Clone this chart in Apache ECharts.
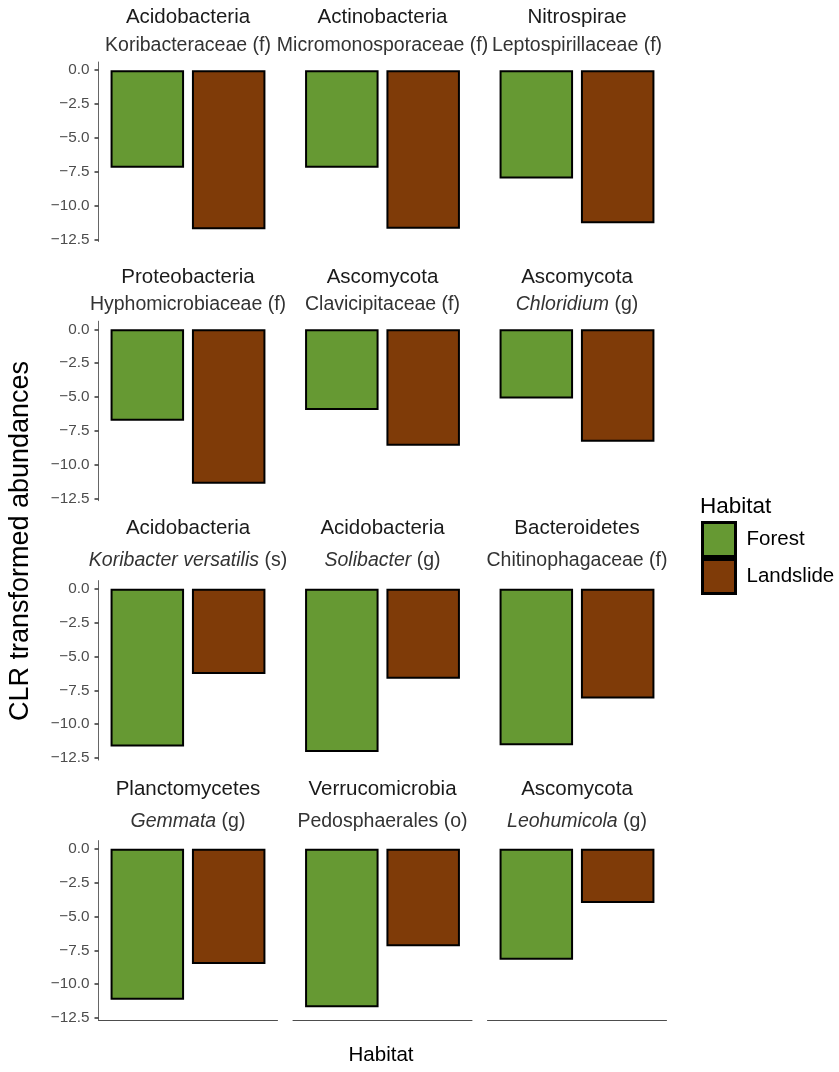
<!DOCTYPE html>
<html>
<head>
<meta charset="utf-8">
<script src="https://cdn.jsdelivr.net/npm/echarts@6/dist/echarts.min.js"></script>
<style>html,body{margin:0;padding:0;background:#fff}#c{width:839px;height:1072px}</style>
</head>
<body>
<div id="c"></div>
<script>
// ---- data ----
const phyla = ['Acidobacteria','Actinobacteria','Nitrospirae','Proteobacteria','Ascomycota','Ascomycota','Acidobacteria','Acidobacteria','Bacteroidetes','Planctomycetes','Verrucomicrobia','Ascomycota'];
const taxonItalic = ['','','','','','Chloridium','Koribacter versatilis','Solibacter','','Gemmata','','Leohumicola'];
const taxonPlain = ['Koribacteraceae (f)','Micromonosporaceae (f)','Leptospirillaceae (f)','Hyphomicrobiaceae (f)','Clavicipitaceae (f)',' (g)',' (s)',' (g)','Chitinophagaceae (f)',' (g)','Pedosphaerales (o)',' (g)'];
const habitats = ['Forest','Landslide'];
const forest = [-7.2,-7.2,-8.0,-6.75,-5.95,-5.1,-11.65,-12.05,-11.55,-11.15,-11.7,-8.2];
const landslide = [-11.75,-11.7,-11.3,-11.4,-8.6,-8.3,-6.3,-6.65,-8.1,-8.5,-7.2,-4.0];
const yTicks = [0,-2.5,-5,-7.5,-10,-12.5];
const yTickLabels = ['0.0','\u22122.5','\u22125.0','\u22127.5','\u221210.0','\u221212.5'];
const colors = {Forest:'#669933', Landslide:'#7f3b08'};

// ---- layout ----
const FONT = "'Liberation Sans', Arial, sans-serif";
const rowTop = [62, 321.2, 580.6, 840.6];
const gridH = 179.5, gridW = 179;
const colLeft = [98.5, 293, 487.5];
const phylumY = [17, 277, 528, 789];
const subY = [46, 305, 561, 822];

const grid = [], xAxis = [], yAxis = [], series = [], graphic = [];
for (let i = 0; i < phyla.length; i++) {
  const r = Math.floor(i / 3), c = i % 3;
  grid.push({left: colLeft[c], top: rowTop[r], width: gridW, height: gridH, containLabel: false});
  xAxis.push({
    type: 'value', gridIndex: i, min: 0.4, max: 2.6,
    axisLine: {show: r === 3, onZero: false, lineStyle: {color: '#4d4d4d', width: 1}},
    axisTick: {show: false}, axisLabel: {show: false}, splitLine: {show: false}
  });
  yAxis.push({
    type: 'value', gridIndex: i, min: -12.65, max: 0.6,
    show: c === 0,
    axisLine: {show: true, lineStyle: {color: '#666', width: 1}},
    axisTick: {show: true, length: 4, customValues: yTicks, lineStyle: {color: '#333', width: 1.5}},
    axisLabel: {show: true, customValues: yTicks, margin: 9, color: '#4d4d4d', fontSize: 15.3, fontFamily: FONT,
      formatter: v => { const k = yTicks.findIndex(t => Math.abs(t - v) < 1e-6); return k >= 0 ? yTickLabels[k] : ''; }},
    splitLine: {show: false}
  });
  const vals = [forest[i], landslide[i]];
  habitats.forEach((h, k) => {
    series.push({
      type: 'bar', name: h, xAxisIndex: i, yAxisIndex: i,
      data: [[k + 1, vals[k]]], barWidth: 73.5, barGap: '-100%',
      itemStyle: {color: colors[h], borderColor: '#000', borderWidth: 2},
      emphasis: {disabled: true}, animation: false
    });
  });
  const cx = colLeft[c] + gridW / 2;
  graphic.push({type: 'text', x: cx, y: phylumY[r], style: {
    text: phyla[i], x: 0, y: 0, align: 'center', verticalAlign: 'middle',
    font: '20.5px ' + FONT, fill: '#1a1a1a'}});
  const t = taxonItalic[i] ? '{i|' + taxonItalic[i] + '}{n|' + taxonPlain[i] + '}' : '{n|' + taxonPlain[i] + '}';
  graphic.push({type: 'text', x: cx, y: subY[r], style: {
    text: t, x: 0, y: 0, align: 'center', verticalAlign: 'middle',
    rich: {
      i: {fontStyle: 'italic', fontSize: 19.5, fontFamily: FONT, fill: '#333333', color: '#333333'},
      n: {fontSize: 19.5, fontFamily: FONT, fill: '#333333', color: '#333333'}
    }, font: '19.5px ' + FONT, fill: '#333333'}});
}
graphic.push({type: 'text', x: 21, y: 541, rotation: Math.PI / 2, style: {
  text: 'CLR transformed abundances', x: 0, y: 0, align: 'center', verticalAlign: 'middle',
  font: '27px ' + FONT, fill: '#000'}});
graphic.push({type: 'text', x: 381, y: 1055, style: {
  text: 'Habitat', x: 0, y: 0, align: 'center', verticalAlign: 'middle',
  font: '20.5px ' + FONT, fill: '#000'}});
graphic.push({type: 'text', x: 700, y: 507, style: {
  text: 'Habitat', x: 0, y: 0, align: 'left', verticalAlign: 'middle',
  font: '22.5px ' + FONT, fill: '#000'}});

const chart = echarts.init(document.getElementById('c'), null, {renderer: 'canvas'});
chart.setOption({
  animation: false,
  backgroundColor: '#fff',
  grid, xAxis, yAxis, series, graphic,
  legend: {
    data: habitats, orient: 'vertical', left: 701, top: 521,
    icon: 'rect', itemWidth: 33, itemHeight: 34, itemGap: 0,
    itemStyle: {borderColor: '#000', borderWidth: 3},
    textStyle: {fontSize: 20.5, fontFamily: FONT, color: '#000', padding: [0, 0, 0, 6]},
    selectedMode: false, padding: 0
  }
});
</script>
</body>
</html>
